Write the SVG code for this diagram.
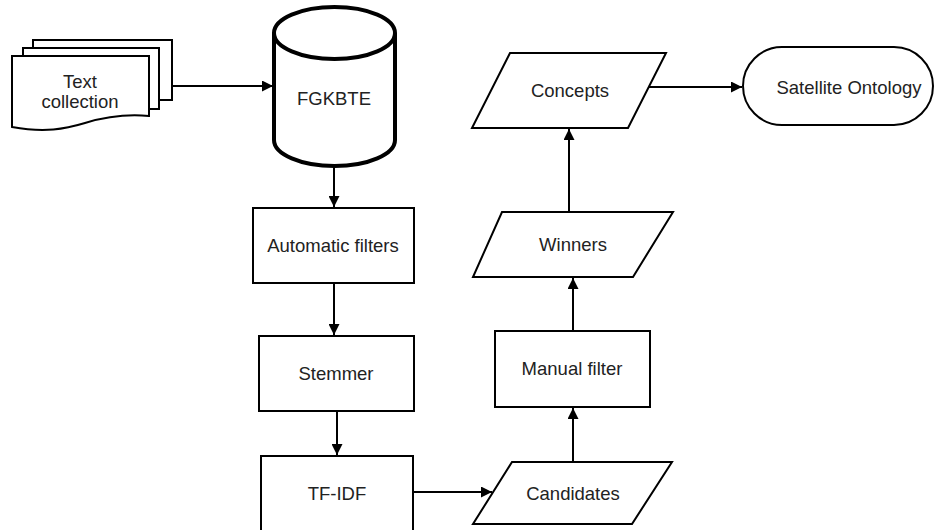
<svg xmlns="http://www.w3.org/2000/svg" width="936" height="530" viewBox="0 0 936 530">
<defs>
<marker id="ah" viewBox="0 0 10 10" refX="10" refY="5" markerWidth="11" markerHeight="11" markerUnits="userSpaceOnUse" orient="auto">
<path d="M0,0 L10,5 L0,10 Z" fill="#000"/>
</marker>
<style>
.s{fill:#fff;stroke:#000;stroke-width:2}
.t{font-family:"Liberation Sans",Arial,sans-serif;font-size:18.5px;fill:#222;text-anchor:middle}
.c{fill:none;stroke:#000;stroke-width:2}
</style>
</defs>
<rect width="936" height="530" fill="#fff"/>
<g id="text-collection">
<rect class="s" x="33" y="40" width="139" height="60"/>
<rect class="s" x="23" y="48" width="136" height="61"/>
<path class="s" d="M12,56 H149 V116 C128,114 108,116 85,123 C65,129 45,133 12,127 Z"/>
<text class="t" x="80" y="88">Text</text>
<text class="t" x="80" y="108">collection</text>
</g>
<g id="fgkbte">
<path d="M274,33 V140 A60.5,26 0 0 0 395,140 V33" fill="#fff" stroke="#000" stroke-width="4"/>
<ellipse cx="334.5" cy="33" rx="60.5" ry="26" fill="#fff" stroke="#000" stroke-width="4"/>
<text class="t" x="334" y="105">FGKBTE</text>
</g>
<g id="automatic-filters">
<rect class="s" x="253" y="208" width="161" height="75"/>
<text class="t" x="333" y="252">Automatic filters</text>
</g>
<g id="stemmer">
<rect class="s" x="259" y="336" width="155" height="75"/>
<text class="t" x="336" y="380">Stemmer</text>
</g>
<g id="tf-idf">
<rect class="s" x="261" y="456" width="152" height="90"/>
<text class="t" x="337" y="500">TF-IDF</text>
</g>
<g id="candidates">
<path class="s" d="M512,462 H672 L632,524 H473 Z"/>
<text class="t" x="573" y="500">Candidates</text>
</g>
<g id="manual-filter">
<rect class="s" x="495" y="331" width="155" height="76"/>
<text class="t" x="572" y="375">Manual filter</text>
</g>
<g id="winners">
<path class="s" d="M502,212 H673 L633,277 H473 Z"/>
<text class="t" x="573" y="251">Winners</text>
</g>
<g id="concepts">
<path class="s" d="M510,53 H666 L628,128 H472 Z"/>
<text class="t" x="570" y="97">Concepts</text>
</g>
<g id="satellite-ontology">
<rect class="s" x="743" y="47" width="190" height="78" rx="39" ry="39"/>
<text class="t" x="849" y="94">Satellite Ontology</text>
</g>
<g id="connectors">
<path class="c" d="M172,86 H273" marker-end="url(#ah)"/>
<path class="c" d="M334,167 V207" marker-end="url(#ah)"/>
<path class="c" d="M334,283 V335" marker-end="url(#ah)"/>
<path class="c" d="M337,411 V455" marker-end="url(#ah)"/>
<path class="c" d="M413,492 H492" marker-end="url(#ah)"/>
<path class="c" d="M573,462 V408" marker-end="url(#ah)"/>
<path class="c" d="M573,331 V278" marker-end="url(#ah)"/>
<path class="c" d="M569,212 V129" marker-end="url(#ah)"/>
<path class="c" d="M649,87 H742" marker-end="url(#ah)"/>
</g>
</svg>
